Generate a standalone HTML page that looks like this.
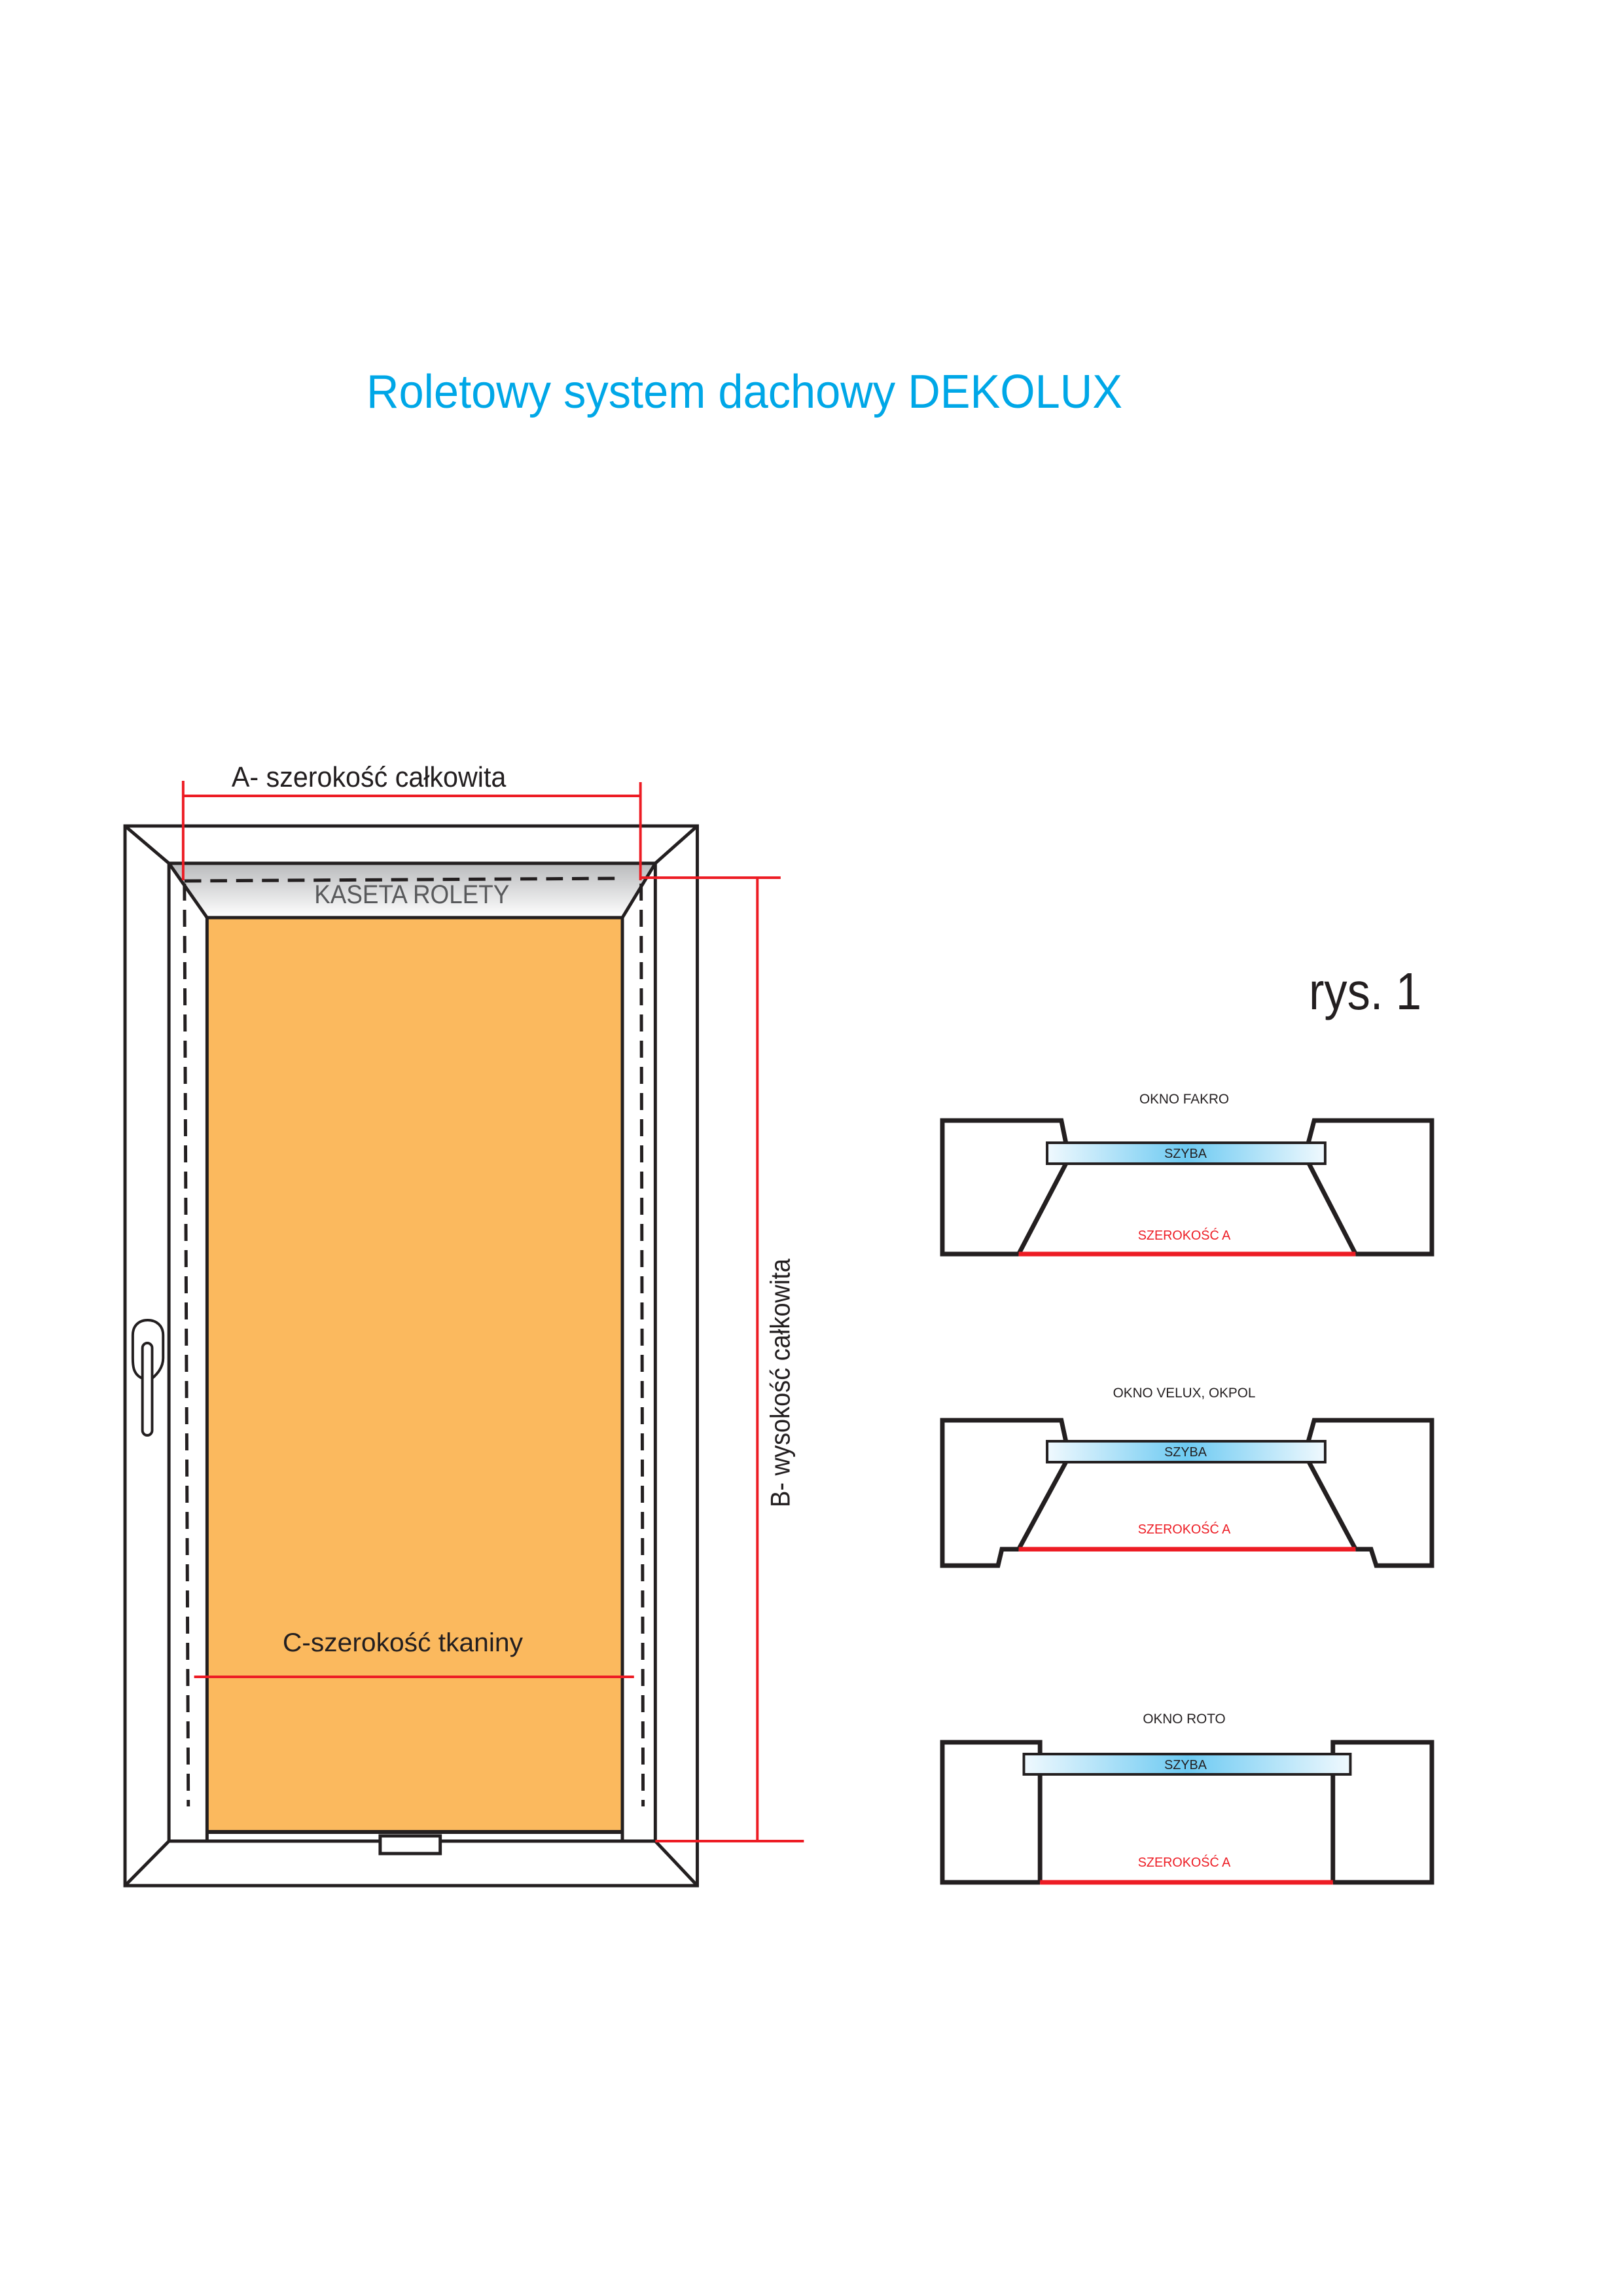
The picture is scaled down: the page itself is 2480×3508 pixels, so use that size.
<!DOCTYPE html>
<html><head><meta charset="utf-8"><style>html,body{margin:0;padding:0;background:#fff}svg{display:block}</style></head>
<body>
<svg width="2480" height="3508" viewBox="0 0 2480 3508" xmlns="http://www.w3.org/2000/svg" font-family="Liberation Sans, sans-serif">
<defs>
<linearGradient id="kas" x1="0" y1="0" x2="0" y2="1"><stop offset="0" stop-color="#b9babc"/><stop offset="1" stop-color="#ffffff"/></linearGradient>
<linearGradient id="gl" x1="0" y1="0" x2="1" y2="0"><stop offset="0" stop-color="#f0f9fe"/><stop offset="0.5" stop-color="#6dcaf2"/><stop offset="1" stop-color="#f0f9fe"/></linearGradient>
</defs>
<rect width="2480" height="3508" fill="#fff"/>
<text x="560" y="623" font-size="72" fill="#00a7e7" textLength="1155" lengthAdjust="spacingAndGlyphs">Roletowy system dachowy DEKOLUX</text>

<g transform="translate(193,0) scale(0.987,1) translate(-193,0)">
<rect x="318" y="1402" width="643" height="1397" fill="#fbb95e"/>
<polygon points="259,1319 1012,1319 961,1402 318,1402" fill="url(#kas)"/>
<g stroke="#231f20" stroke-width="5" fill="none">
<rect x="191" y="1262" width="886" height="1619"/>
<line x1="191" y1="1262" x2="259" y2="1319"/>
<line x1="1077" y1="1262" x2="1012" y2="1319"/>
<line x1="191" y1="2881" x2="259" y2="2813"/>
<line x1="1077" y1="2881" x2="1012" y2="2813"/>
<line x1="259" y1="1319" x2="1012" y2="1319"/>
<line x1="259" y1="1319" x2="259" y2="2813"/>
<line x1="1012" y1="1319" x2="1012" y2="2813"/>
<line x1="259" y1="2813" x2="1012" y2="2813"/>
<line x1="259" y1="1319" x2="318" y2="1402"/>
<line x1="1012" y1="1319" x2="961" y2="1402"/>
<line x1="318" y1="1402" x2="961" y2="1402"/>
<line x1="318" y1="1402" x2="318" y2="2813"/>
<line x1="961" y1="1402" x2="961" y2="2813"/>
<line x1="318" y1="2799" x2="961" y2="2799" stroke-width="6"/>
<rect x="586" y="2805" width="93" height="27" fill="#fff"/>
</g>
<g stroke="#231f20" stroke-width="5" fill="none" stroke-dasharray="26,14">
<line x1="283" y1="1346" x2="960" y2="1342"/>
<line x1="283" y1="1350" x2="289" y2="2760"/>
<line x1="990" y1="1350" x2="993" y2="2760"/>
</g>
<g stroke="#231f20" stroke-width="4" fill="#fff">
<path d="M218,2106 C203,2100 203,2085 203,2075 L203,2040 C203,2025 213,2017 226,2017 C239,2017 250,2025 250,2040 L250,2075 C250,2090 240,2100 233,2106"/>
<rect x="218" y="2052" width="15" height="141" rx="7.5"/>
</g>
<g stroke="#ed1c24" stroke-width="4" fill="none">
<line x1="281" y1="1193" x2="281" y2="1345"/>
<line x1="989" y1="1195" x2="989" y2="1345"/>
<line x1="281" y1="1216" x2="989" y2="1216"/>
<line x1="989" y1="1341" x2="1206" y2="1341"/>
<line x1="1170" y1="1341" x2="1170" y2="2813"/>
<line x1="1012" y1="2813" x2="1242" y2="2813"/>
<line x1="298" y1="2562" x2="979" y2="2562"/>
</g>
<text x="356" y="1202" font-size="44" fill="#231f20" textLength="425" lengthAdjust="spacingAndGlyphs">A- szerokość całkowita</text>
<text x="484" y="1380" font-size="40" fill="#58595b" textLength="302" lengthAdjust="spacingAndGlyphs">KASETA ROLETY</text>
<text x="435" y="2523" font-size="40" fill="#231f20" textLength="372" lengthAdjust="spacingAndGlyphs">C-szerokość tkaniny</text>
<text transform="translate(1220,2303) rotate(-90)" font-size="42" fill="#231f20" textLength="380" lengthAdjust="spacingAndGlyphs">B- wysokość całkowita</text>
</g>
<text x="2000" y="1542" font-size="80" fill="#231f20" textLength="172" lengthAdjust="spacingAndGlyphs">rys. 1</text>

<g transform="translate(1440,0) scale(0.988,1) translate(-1440,0)">
<g font-size="21" text-anchor="middle">
<text x="1814" y="1686" fill="#231f20">OKNO FAKRO</text>
<text x="1814" y="2135" fill="#231f20">OKNO VELUX, OKPOL</text>
<text x="1814" y="2633" fill="#231f20">OKNO ROTO</text>
</g>
<g stroke="#231f20" stroke-width="7" fill="none" stroke-linejoin="miter">
<polyline points="1558,1916 1440,1916 1440,1712 1624,1712 1631,1746"/>
<line x1="1631" y1="1778" x2="1558" y2="1916"/>
<polyline points="2079,1916 2197,1916 2197,1712 2015,1712 2006,1746"/>
<line x1="2007" y1="1778" x2="2079" y2="1916"/>
<polyline points="1558,2367 1532,2367 1526,2392 1440,2392 1440,2170 1624,2170 1631,2202"/>
<line x1="1631" y1="2234" x2="1558" y2="2367"/>
<polyline points="2079,2367 2103,2367 2111,2392 2197,2392 2197,2170 2015,2170 2006,2202"/>
<line x1="2007" y1="2234" x2="2079" y2="2367"/>
<polyline points="1591,2876 1440,2876 1440,2662 1591,2662 1591,2680"/>
<line x1="1591" y1="2711" x2="1591" y2="2876"/>
<polyline points="2044,2876 2197,2876 2197,2662 2044,2662 2044,2680"/>
<line x1="2044" y1="2711" x2="2044" y2="2876"/>
</g>
<g stroke="#231f20" stroke-width="4" fill="url(#gl)">
<rect x="1602" y="1746" width="430" height="32"/>
<rect x="1602" y="2202" width="430" height="32"/>
<rect x="1566" y="2680" width="505" height="31"/>
</g>
<g stroke="#ed1c24" stroke-width="7">
<line x1="1558" y1="1916" x2="2079" y2="1916"/>
<line x1="1558" y1="2367" x2="2079" y2="2367"/>
<line x1="1591" y1="2876" x2="2044" y2="2876"/>
</g>
<g font-size="20" text-anchor="middle">
<text x="1816" y="1769" fill="#231f20">SZYBA</text>
<text x="1816" y="2225" fill="#231f20">SZYBA</text>
<text x="1816" y="2703" fill="#231f20">SZYBA</text>
<text x="1814" y="1894" fill="#ed1c24">SZEROKOŚĆ A</text>
<text x="1814" y="2343" fill="#ed1c24">SZEROKOŚĆ A</text>
<text x="1814" y="2852" fill="#ed1c24">SZEROKOŚĆ A</text>
</g>
</g>
</svg>
</body></html>
